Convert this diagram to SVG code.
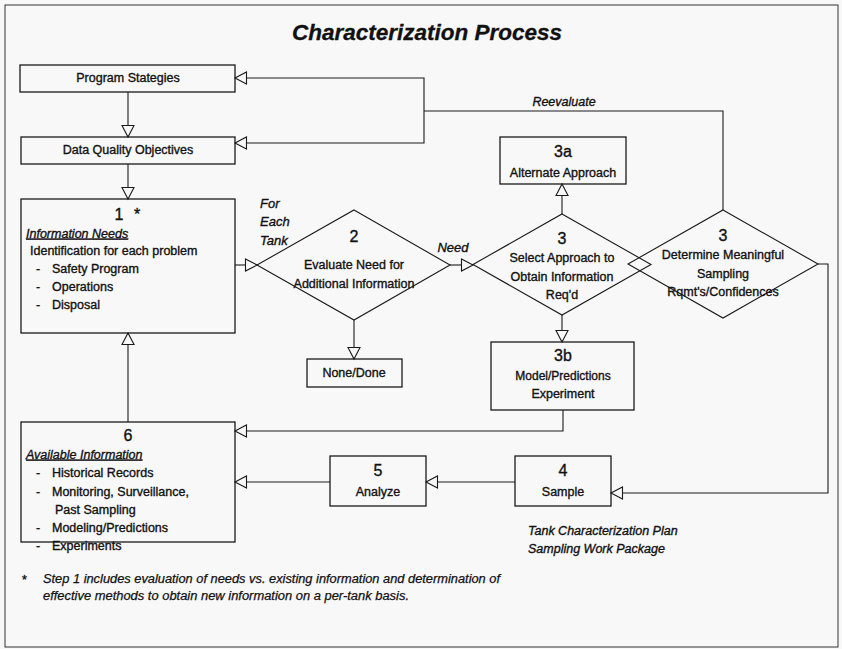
<svg xmlns="http://www.w3.org/2000/svg" width="842" height="649" viewBox="0 0 842 649">
  <style>
    .box { fill: none; stroke: #1a1a1a; stroke-width: 1.3; }
    .dia { fill: none; stroke: #1a1a1a; stroke-width: 1.1; }
    .wire { fill: none; stroke: #1a1a1a; stroke-width: 1.1; }
    .t { font-family: "Liberation Sans", Arial, sans-serif; font-size: 12.5px; fill: #111; stroke: #111; stroke-width: 0.35; }
    .c { text-anchor: middle; }
    .num { font-size: 16px; }
    .it { font-style: italic; }
    .lbl { font-family: "Liberation Sans", Arial, sans-serif; font-size: 13px; font-style: italic; fill: #111; stroke: #111; stroke-width: 0.35; }
    .ul { text-decoration: underline; font-style: italic; }
  </style>
  <defs>
    <marker id="open" viewBox="0 0 13 13" refX="12" refY="6.5" markerWidth="13" markerHeight="13" markerUnits="userSpaceOnUse" orient="auto" overflow="visible">
      <path d="M0.5,0.5 L12,6.5 L0.5,12.5 Z" fill="#f8f8f8" stroke="#1a1a1a" stroke-width="1.1"/>
    </marker>
  </defs>

  <!-- page and frame -->
  <rect x="0" y="0" width="842" height="649" fill="#f8f8f8"/>
  <rect x="5" y="5" width="833" height="642" fill="none" stroke="#333" stroke-width="1"/>

  <text class="t c" x="427" y="40" style="font-size:22.5px;font-weight:bold;font-style:italic;stroke-width:0.3">Characterization Process</text>

  <!-- connectors -->
  <g id="connectors">
    <line class="wire" x1="128" y1="92" x2="128" y2="137" marker-end="url(#open)"/>
    <line class="wire" x1="128" y1="164" x2="128" y2="199" marker-end="url(#open)"/>
    <path class="wire" d="M723,210 V111 H424"/>
    <path class="wire" d="M424,111 V78 H235" marker-end="url(#open)"/>
    <path class="wire" d="M424,111 V143 H235" marker-end="url(#open)"/>
    <line class="wire" x1="235" y1="265" x2="257" y2="265" marker-end="url(#open)"/>
    <line class="wire" x1="450" y1="265" x2="473" y2="265" marker-end="url(#open)"/>
    <line class="wire" x1="354" y1="320" x2="354" y2="359" marker-end="url(#open)"/>
    <line class="wire" x1="562" y1="214" x2="562" y2="184" marker-end="url(#open)"/>
    <line class="wire" x1="562" y1="315" x2="562" y2="342" marker-end="url(#open)"/>
    <path class="wire" d="M818,264 H828 V493 H611" marker-end="url(#open)"/>
    <path class="wire" d="M563,410 V431 H235" marker-end="url(#open)"/>
    <line class="wire" x1="515" y1="482" x2="426" y2="482" marker-end="url(#open)"/>
    <line class="wire" x1="330" y1="482" x2="235" y2="482" marker-end="url(#open)"/>
    <line class="wire" x1="128" y1="422" x2="128" y2="333" marker-end="url(#open)"/>
    <text class="t c it" x="564" y="106">Reevaluate</text>
    <text class="lbl" x="260" y="208">For</text>
    <text class="lbl" x="260" y="226">Each</text>
    <text class="lbl" x="260" y="245">Tank</text>
    <text class="lbl c" x="453" y="252">Need</text>
  </g>

  <g id="program-strategies">
    <rect class="box" x="20" y="65" width="215" height="27"/>
    <text class="t c" x="128" y="82">Program Stategies</text>
  </g>

  <g id="dqo">
    <rect class="box" x="21" y="137" width="214" height="27"/>
    <text class="t c" x="128" y="153.5">Data Quality Objectives</text>
  </g>

  <g id="step1">
    <rect class="box" x="21" y="199" width="214" height="134"/>
    <text class="t c num" x="119" y="219.5">1</text>
    <text class="t c num" x="137" y="219.5">*</text>
    <text class="t ul" x="26" y="237.5">Information Needs</text>
    <text class="t" x="30" y="254.5">Identification for each problem</text>
    <text class="t" x="36" y="272.5">-</text><text class="t" x="52" y="272.5">Safety Program</text>
    <text class="t" x="36" y="290.5">-</text><text class="t" x="52" y="290.5">Operations</text>
    <text class="t" x="36" y="308.5">-</text><text class="t" x="52" y="308.5">Disposal</text>
  </g>

  <g id="step2">
    <polygon class="dia" points="354,210 450,265 354,320 257,265"/>
    <text class="t c num" x="354" y="241.5">2</text>
    <text class="t c" x="354" y="268.5">Evaluate Need for</text>
    <text class="t c" x="354" y="287.5">Additional Information</text>
  </g>

  <g id="none-done">
    <rect class="box" x="307" y="359" width="95" height="28"/>
    <text class="t c" x="354" y="376.5">None/Done</text>
  </g>

  <g id="step3-select">
    <polygon class="dia" points="562,214 651,264.5 562,315 473,264.5"/>
    <text class="t c num" x="562" y="243.5">3</text>
    <text class="t c" x="562" y="261.5">Select Approach to</text>
    <text class="t c" x="562" y="280.5">Obtain Information</text>
    <text class="t c" x="562" y="298.5">Req'd</text>
  </g>

  <g id="step3-determine">
    <polygon class="dia" points="723,210 818,264 723,318 628,264"/>
    <text class="t c num" x="723" y="240.5">3</text>
    <text class="t c" x="723" y="258.5">Determine Meaningful</text>
    <text class="t c" x="723" y="277.5">Sampling</text>
    <text class="t c" x="723" y="295.5">Rqmt's/Confidences</text>
  </g>

  <g id="step3a">
    <rect class="box" x="500" y="137" width="126" height="47"/>
    <text class="t c num" x="563" y="156.5">3a</text>
    <text class="t c" x="563" y="176.5">Alternate Approach</text>
  </g>

  <g id="step3b">
    <rect class="box" x="491" y="342" width="143" height="68"/>
    <text class="t c num" x="563" y="360.5">3b</text>
    <text class="t c" x="563" y="379.5" style="font-size:12px">Model/Predictions</text>
    <text class="t c" x="563" y="397.5">Experiment</text>
  </g>

  <g id="step6">
    <rect class="box" x="21" y="422" width="214" height="120"/>
    <text class="t c num" x="128" y="440.5">6</text>
    <text class="t ul" x="26" y="458.5">Available Information</text>
    <text class="t" x="36" y="476.5">-</text><text class="t" x="52" y="476.5">Historical Records</text>
    <text class="t" x="36" y="495.5">-</text><text class="t" x="52" y="495.5">Monitoring, Surveillance,</text>
    <text class="t" x="55" y="513.5">Past Sampling</text>
    <text class="t" x="36" y="531.5">-</text><text class="t" x="52" y="531.5">Modeling/Predictions</text>
    <text class="t" x="36" y="549.5">-</text><text class="t" x="52" y="549.5">Experiments</text>
  </g>

  <g id="step5">
    <rect class="box" x="330" y="456" width="96" height="50"/>
    <text class="t c num" x="378" y="475.5">5</text>
    <text class="t c" x="378" y="495.5">Analyze</text>
  </g>

  <g id="step4">
    <rect class="box" x="515" y="456" width="96" height="50"/>
    <text class="t c num" x="563" y="475.5">4</text>
    <text class="t c" x="563" y="495.5">Sample</text>
  </g>

  <g id="plan-note">
    <text class="t it" x="528" y="534.5">Tank Characterization Plan</text>
    <text class="t it" x="528" y="552.5">Sampling Work Package</text>
  </g>

  <g id="footnote">
    <text class="t" x="22" y="584">*</text>
    <text class="t it" x="43" y="583" style="font-size:12px;stroke-width:0.25" textLength="457" lengthAdjust="spacingAndGlyphs">Step 1 includes evaluation of needs vs. existing information and determination of</text>
    <text class="t it" x="43" y="600" style="font-size:12px;stroke-width:0.25" textLength="366" lengthAdjust="spacingAndGlyphs">effective methods to obtain new information on a per-tank basis.</text>
  </g>
</svg>
